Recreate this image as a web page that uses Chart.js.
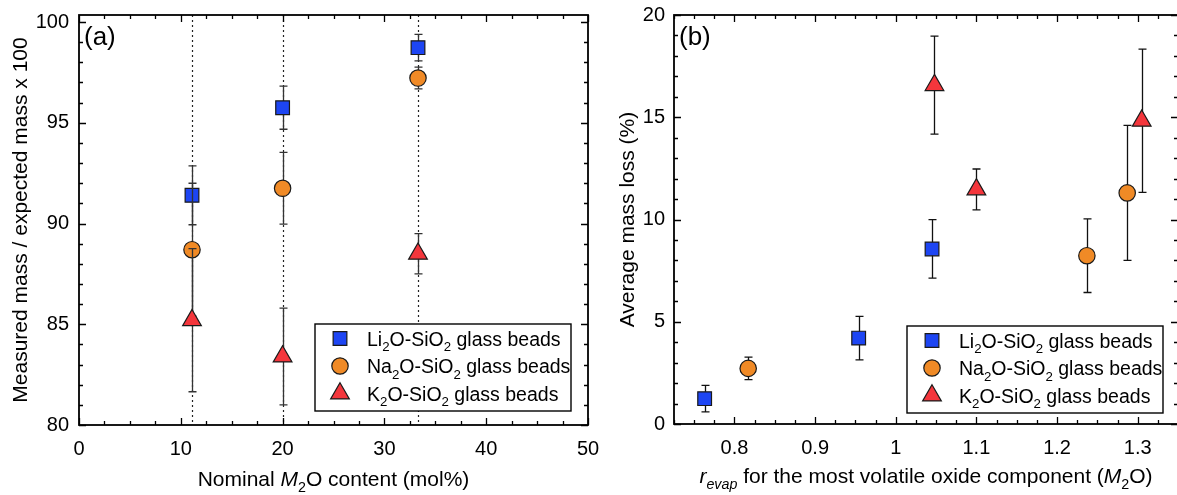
<!DOCTYPE html>
<html>
<head>
<meta charset="utf-8">
<script src="https://cdn.jsdelivr.net/npm/chart.js@4.4.1/dist/chart.umd.min.js"></script>
<style>
html, body { margin: 0; background: #fff; overflow: hidden; width: 1177px; height: 495px; }
#chartA { position: absolute; left: 0; top: 0; }
#chartB { position: absolute; left: 590px; top: 0; }
</style>
</head>
<body>
<canvas id="chartA" width="600" height="495"></canvas>
<canvas id="chartB" width="600" height="495"></canvas>
<script>
// (a) measured / expected mass vs nominal M2O content
const nominalM2O = [11.1, 20, 33.3];
const ratioLi = [91.4, 95.75, 98.73];
const ratioLiErr = [1.46, 1.07, 0.66];
const ratioNa = [88.7, 91.75, 97.22];
const ratioNaErr = [3.3, 1.78, 0.54];
const ratioK = [85.2, 83.4, 88.5];
const ratioKErr = [3.55, 2.4, 1.0];
const xTicksA = [0, 10, 20, 30, 40, 50];
const yTicksA = [80, 85, 90, 95, 100];

// (b) average mass loss vs r_evap
const revapLi = [0.763, 0.954, 1.045];
const lossLi = [1.24, 4.2, 8.56];
const lossLiErr = [0.65, 1.06, 1.43];
const revapNa = [0.817, 1.237, 1.287];
const lossNa = [2.72, 8.23, 11.3];
const lossNaErr = [0.55, 1.8, 3.3];
const revapK = [1.048, 1.1, 1.305];
const lossK = [16.57, 11.47, 14.83];
const lossKErr = [2.4, 1.0, 3.5];
const xTicksB = [0.8, 0.9, 1, 1.1, 1.2, 1.3];
const yTicksB = [0, 5, 10, 15, 20];

// legend names, [text, flags] pieces (s = subscript, i = italic)
const nameLi = [['Li', ''], ['2', 's'], ['O-SiO', ''], ['2', 's'], [' glass beads', '']];
const nameNa = [['Na', ''], ['2', 's'], ['O-SiO', ''], ['2', 's'], [' glass beads', '']];
const nameK = [['K', ''], ['2', 's'], ['O-SiO', ''], ['2', 's'], [' glass beads', '']];

const FONT = '"Liberation Sans", Arial, sans-serif';
const BLUE = '#1d45f3', ORANGE = '#f08a26', RED = '#f4363c', EDGE = '#1a1a1a';

function pts(xs, ys) { return xs.map((x, i) => ({ x: x, y: ys[i] })); }

function drawMarker(ctx, style, x, y, r) {
  ctx.beginPath();
  if (style === 'rect') {
    const s = r * Math.SQRT1_2;
    ctx.rect(x - s, y - s, 2 * s, 2 * s);
  } else if (style === 'circle') {
    ctx.arc(x, y, r, 0, Math.PI * 2);
  } else {
    ctx.moveTo(x, y - r);
    ctx.lineTo(x + r * 0.866, y + r * 0.5);
    ctx.lineTo(x - r * 0.866, y + r * 0.5);
    ctx.closePath();
  }
  ctx.fill();
  ctx.stroke();
}

function segFont(flags, size) {
  const sz = flags.includes('s') ? size * 0.68 : size;
  return (flags.includes('i') ? 'italic ' : '') + sz + 'px ' + FONT;
}

function richWidth(ctx, segs, size) {
  let w = 0;
  segs.forEach(([t, f]) => { ctx.font = segFont(f, size); w += ctx.measureText(t).width; });
  return w;
}

function drawRich(ctx, segs, x, y, size, align) {
  let cx = align === 'center' ? x - richWidth(ctx, segs, size) / 2 : x;
  ctx.textAlign = 'left';
  ctx.textBaseline = 'alphabetic';
  ctx.fillStyle = '#000';
  segs.forEach(([t, f]) => {
    ctx.font = segFont(f, size);
    ctx.fillText(t, cx, f.includes('s') ? y + size * 0.3 : y);
    cx += ctx.measureText(t).width;
  });
}

const panelPlugin = {
  id: 'panel',
  beforeDatasetsDraw(chart, args, o) {
    const { ctx, chartArea: a } = chart;
    const xs = chart.scales.x;
    ctx.save();
    ctx.strokeStyle = '#222';
    ctx.lineWidth = 1.2;
    ctx.setLineDash([2, 3]);
    (o.guides || []).forEach(v => {
      const px = Math.round(xs.getPixelForValue(v)) + 0.5;
      ctx.beginPath();
      ctx.moveTo(px, a.top);
      ctx.lineTo(px, a.bottom);
      ctx.stroke();
    });
    ctx.restore();
  },
  beforeDatasetDraw(chart, args, o) {
    const { ctx } = chart;
    const ys = chart.scales.y;
    const ds = chart.data.datasets[args.index];
    ctx.save();
    ctx.strokeStyle = o.barColor;
    ctx.lineWidth = 1.3;
    args.meta.data.forEach((el, i) => {
      const v = ds.data[i].y, e = ds.yErr[i];
      const x = Math.round(el.x) + 0.5;
      const top = ys.getPixelForValue(v + e), bot = ys.getPixelForValue(v - e);
      ctx.beginPath();
      ctx.moveTo(x, top); ctx.lineTo(x, bot);
      ctx.moveTo(x - 4, top); ctx.lineTo(x + 4, top);
      ctx.moveTo(x - 4, bot); ctx.lineTo(x + 4, bot);
      ctx.stroke();
    });
    ctx.restore();
  },
  afterDraw(chart, args, o) {
    const { ctx, chartArea: a } = chart;
    const xs = chart.scales.x, ys = chart.scales.y;
    ctx.save();
    ctx.strokeStyle = '#000';
    ctx.lineWidth = 1.3;
    // inward ticks on all four sides
    const tickRun = (scale, step, major, fn) => {
      const k0 = Math.ceil(scale.min / step - 1e-6), k1 = Math.floor(scale.max / step + 1e-6);
      for (let k = k0; k <= k1; k++) {
        const v = k * step;
        const isMajor = Math.abs(v / major - Math.round(v / major)) < 1e-6;
        fn(scale.getPixelForValue(v), isMajor ? 7 : 4);
      }
    };
    ctx.beginPath();
    tickRun(xs, o.xMinor, o.xMajor, (p, len) => {
      p = Math.round(p) + 0.5;
      ctx.moveTo(p, a.bottom); ctx.lineTo(p, a.bottom - len);
      ctx.moveTo(p, a.top); ctx.lineTo(p, a.top + len);
    });
    tickRun(ys, o.yMinor, o.yMajor, (p, len) => {
      p = Math.round(p) + 0.5;
      ctx.moveTo(a.left, p); ctx.lineTo(a.left + len, p);
      ctx.moveTo(a.right, p); ctx.lineTo(a.right - len, p);
    });
    ctx.stroke();
    ctx.lineWidth = 1.8;
    ctx.strokeRect(a.left, a.top, a.right - a.left, a.bottom - a.top);

    // legend box
    const lg = o.legend;
    const bx = a.right - lg.right - 256, by = a.bottom - lg.bottom - 87;
    ctx.fillStyle = '#fff';
    ctx.fillRect(bx, by, 256, 87);
    ctx.lineWidth = 1.4;
    ctx.strokeRect(bx, by, 256, 87);
    chart.data.datasets.forEach(ds => {
      const ry = by + 14.5 + ds.legendRow * 27.5;
      ctx.fillStyle = ds.backgroundColor;
      ctx.strokeStyle = EDGE;
      ctx.lineWidth = 1.2;
      drawMarker(ctx, ds.pointStyle, bx + 25, ry, ds.pointRadius);
      drawRich(ctx, ds.legendName, bx + 52, ry + 7, 19.5, 'left');
    });

    // axis titles and panel label
    drawRich(ctx, o.xTitle, (a.left + a.right) / 2, a.bottom + o.xTitleGap, 21, 'center');
    ctx.save();
    ctx.translate(o.yTitleX, (a.top + a.bottom) / 2);
    ctx.rotate(-Math.PI / 2);
    drawRich(ctx, o.yTitle, 0, 0, 21, 'center');
    ctx.restore();
    ctx.font = '26px ' + FONT;
    ctx.fillStyle = '#000';
    ctx.textAlign = 'left';
    ctx.fillText(o.tag, a.left + 5, a.top + 30);
    ctx.restore();
  }
};

function series(xs, ys, errs, name, color, style, r, row, order) {
  return {
    data: pts(xs, ys), yErr: errs, legendName: name, legendRow: row, order: order,
    backgroundColor: color, borderColor: EDGE, borderWidth: 1.2,
    pointStyle: style, pointRadius: r, pointHoverRadius: r
  };
}

function axis(min, max, ticks, size, pad, horizontal) {
  return {
    type: 'linear', min: min, max: max,
    afterBuildTicks: s => { s.ticks = ticks.map(v => ({ value: v })); },
    ticks: { color: '#000', font: { family: FONT, size: 20 }, padding: pad, callback: v => String(v), autoSkip: false, maxRotation: 0 },
    grid: { display: false, drawTicks: false },
    border: { display: false },
    afterFit: s => {
      if (horizontal) s.height = size; else s.width = size;
      s.paddingLeft = s.paddingRight = s.paddingTop = s.paddingBottom = 0;
    }
  };
}

function makeOptions(padRight, xAx, yAx, panel) {
  return {
    responsive: false, animation: false, devicePixelRatio: 1,
    layout: { padding: { top: 15, right: padRight, left: 0, bottom: 0 } },
    scales: { x: xAx, y: yAx },
    plugins: { legend: { display: false }, tooltip: { enabled: false }, panel: panel }
  };
}

new Chart(document.getElementById('chartA'), {
  type: 'scatter',
  data: {
    datasets: [
      series(nominalM2O, ratioLi, ratioLiErr, nameLi, BLUE, 'rect', 9.7, 0, 3),
      series(nominalM2O, ratioNa, ratioNaErr, nameNa, ORANGE, 'circle', 8.2, 1, 2),
      series(nominalM2O, ratioK, ratioKErr, nameK, RED, 'triangle', 10.8, 2, 1)
    ]
  },
  options: makeOptions(9,
    axis(0, 50, xTicksA, 70, 12, true),
    axis(80, 100.35, yTicksA, 79, 10, false),
    {
      guides: nominalM2O, barColor: '#333',
      xMinor: 2.5, xMajor: 10, yMinor: 1, yMajor: 5,
      legend: { right: 17, bottom: 14 },
      xTitle: [['Nominal ', ''], ['M', 'i'], ['2', 's'], ['O content (mol%)', '']],
      xTitleGap: 61,
      yTitle: [['Measured mass / expected mass x 100', '']],
      yTitleX: 27, tag: '(a)'
    }),
  plugins: [panelPlugin]
});

new Chart(document.getElementById('chartB'), {
  type: 'scatter',
  data: {
    datasets: [
      series(revapLi, lossLi, lossLiErr, nameLi, BLUE, 'rect', 9.7, 0, 3),
      series(revapNa, lossNa, lossNaErr, nameNa, ORANGE, 'circle', 8.2, 1, 2),
      series(revapK, lossK, lossKErr, nameK, RED, 'triangle', 10.8, 2, 1)
    ]
  },
  options: makeOptions(10,
    axis(0.725, 1.35, xTicksB, 71, 12, true),
    axis(0, 20, yTicksB, 84, 9, false),
    {
      guides: [], barColor: '#111',
      xMinor: 0.025, xMajor: 0.1, yMinor: 1, yMajor: 5,
      legend: { right: 15, bottom: 11 },
      xTitle: [['r', 'i'], ['evap', 'is'], [' for the most volatile oxide component (', ''], ['M', 'i'], ['2', 's'], ['O)', '']],
      xTitleGap: 59,
      yTitle: [['Average mass loss (%)', '']],
      yTitleX: 44, tag: '(b)'
    }),
  plugins: [panelPlugin]
});
</script>
</body>
</html>
